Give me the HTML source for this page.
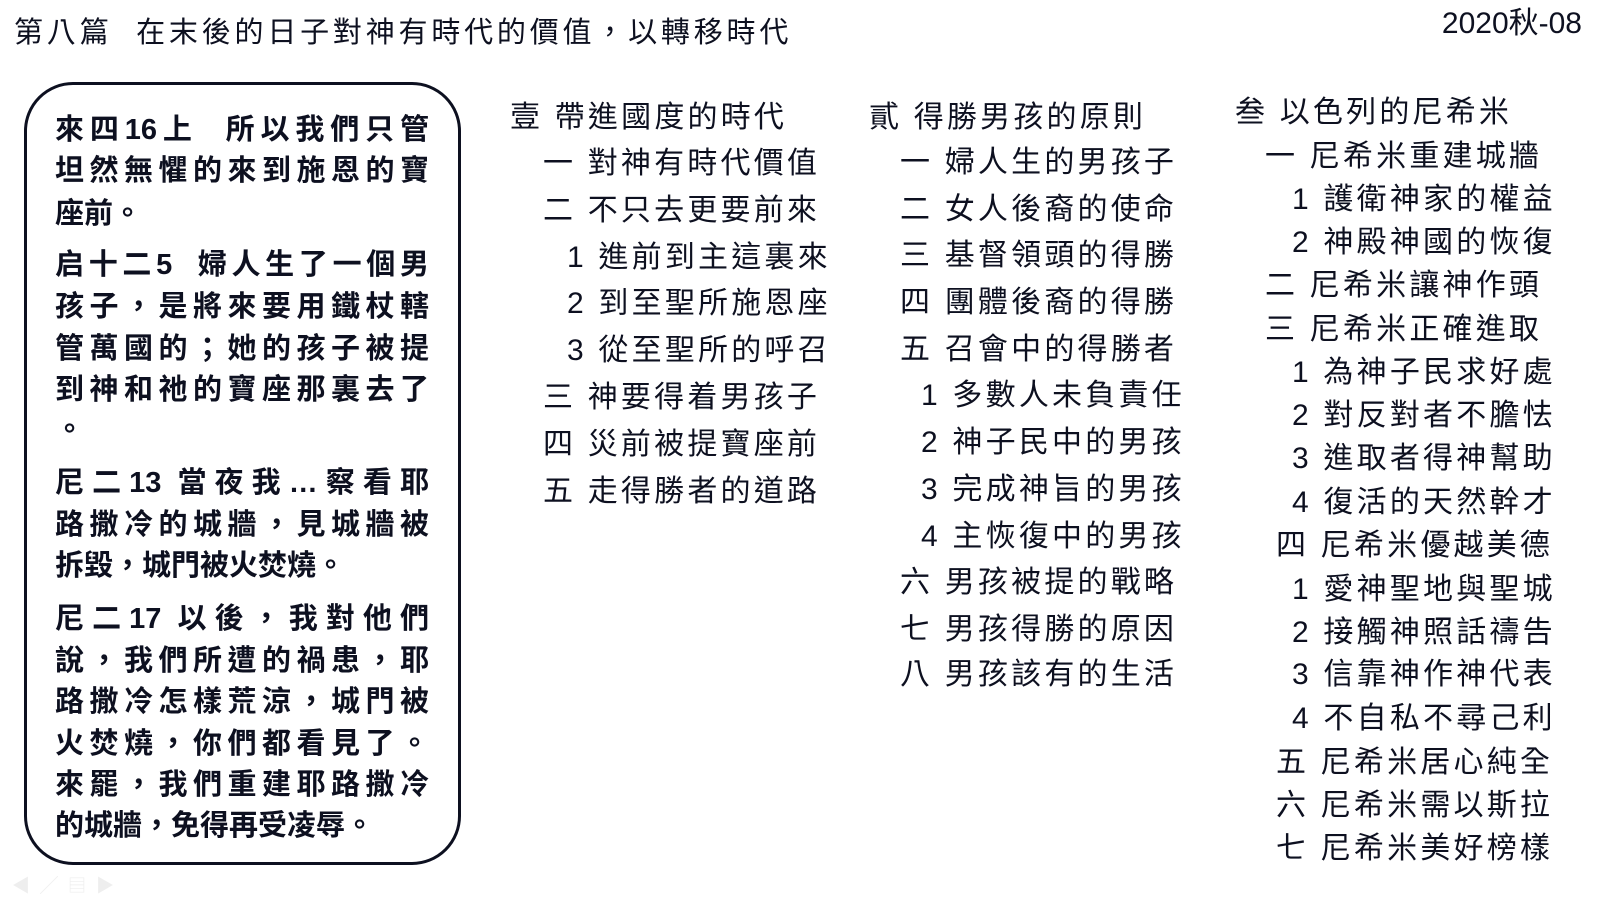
<!DOCTYPE html>
<html><head><meta charset="utf-8">
<style>
body{margin:0;width:1600px;height:900px;background:#fff;position:relative;overflow:hidden;
font-family:"Liberation Sans","Noto Sans CJK TC",sans-serif;color:#0d1020;}
.t{position:absolute;white-space:pre;line-height:1;}
.title{font-size:29px;}
.box{position:absolute;left:24px;top:82px;width:431px;height:777px;border:3px solid #0d1020;border-radius:49px;}
.b{position:absolute;left:55px;width:374px;font-size:29px;font-weight:bold;line-height:1;text-align:justify;text-align-last:justify;white-space:nowrap;}
.b.n{text-align-last:left;}
.c{position:absolute;font-size:30px;letter-spacing:3.2px;line-height:1;white-space:pre;}
</style></head><body>
<div class="t title" style="left:14px;top:19px;letter-spacing:3.8px;">第八篇  在末後的日子對神有時代的價值，以轉移時代</div>
<div class="t title" style="right:18px;top:9px;font-size:30px;">2020秋-08</div>
<div class="box"></div>
<div class="b" style="top:116px">來四16上 &nbsp;所以我們只管</div>
<div class="b" style="top:157px">坦然無懼的來到施恩的寶</div>
<div class="b n" style="top:200px">座前。</div>
<div class="b" style="top:251px">启十二5 &nbsp;婦人生了一個男</div>
<div class="b" style="top:293px">孩子，是將來要用鐵杖轄</div>
<div class="b" style="top:335px">管萬國的；她的孩子被提</div>
<div class="b" style="top:376px">到神和祂的寶座那裏去了</div>
<div class="b n" style="top:416px">。</div>
<div class="b" style="top:469px">尼二13 當夜我…察看耶</div>
<div class="b" style="top:511px">路撒冷的城牆，見城牆被</div>
<div class="b n" style="top:552px">拆毀，城門被火焚燒。</div>
<div class="b" style="top:605px">尼二17 以後，我對他們</div>
<div class="b" style="top:647px">說，我們所遭的禍患，耶</div>
<div class="b" style="top:688px">路撒冷怎樣荒涼，城門被</div>
<div class="b" style="top:730px">火焚燒，你們都看見了。</div>
<div class="b" style="top:771px">來罷，我們重建耶路撒冷</div>
<div class="b n" style="top:812px">的城牆，免得再受凌辱。</div>

<div class="c" style="left:510px;top:103px">壹 帶進國度的時代</div>
<div class="c" style="left:543px;top:149px">一 對神有時代價值</div>
<div class="c" style="left:543px;top:196px">二 不只去更要前來</div>
<div class="c" style="left:567px;top:243px">1 進前到主這裏來</div>
<div class="c" style="left:567px;top:289px">2 到至聖所施恩座</div>
<div class="c" style="left:567px;top:336px">3 從至聖所的呼召</div>
<div class="c" style="left:543px;top:383px">三 神要得着男孩子</div>
<div class="c" style="left:543px;top:430px">四 災前被提寶座前</div>
<div class="c" style="left:543px;top:477px">五 走得勝者的道路</div>

<div class="c" style="left:869px;top:103px">貳 得勝男孩的原則</div>
<div class="c" style="left:900px;top:148px">一 婦人生的男孩子</div>
<div class="c" style="left:900px;top:195px">二 女人後裔的使命</div>
<div class="c" style="left:900px;top:241px">三 基督領頭的得勝</div>
<div class="c" style="left:900px;top:288px">四 團體後裔的得勝</div>
<div class="c" style="left:900px;top:335px">五 召會中的得勝者</div>
<div class="c" style="left:921px;top:381px">1 多數人未負責任</div>
<div class="c" style="left:921px;top:428px">2 神子民中的男孩</div>
<div class="c" style="left:921px;top:475px">3 完成神旨的男孩</div>
<div class="c" style="left:921px;top:522px">4 主恢復中的男孩</div>
<div class="c" style="left:900px;top:568px">六 男孩被提的戰略</div>
<div class="c" style="left:900px;top:615px">七 男孩得勝的原因</div>
<div class="c" style="left:900px;top:660px">八 男孩該有的生活</div>

<div class="c" style="left:1235px;top:98px">叁 以色列的尼希米</div>
<div class="c" style="left:1265px;top:142px">一 尼希米重建城牆</div>
<div class="c" style="left:1292px;top:185px">1 護衛神家的權益</div>
<div class="c" style="left:1292px;top:228px">2 神殿神國的恢復</div>
<div class="c" style="left:1265px;top:271px">二 尼希米讓神作頭</div>
<div class="c" style="left:1265px;top:315px">三 尼希米正確進取</div>
<div class="c" style="left:1292px;top:358px">1 為神子民求好處</div>
<div class="c" style="left:1292px;top:401px">2 對反對者不膽怯</div>
<div class="c" style="left:1292px;top:444px">3 進取者得神幫助</div>
<div class="c" style="left:1292px;top:488px">4 復活的天然幹才</div>
<div class="c" style="left:1276px;top:531px">四 尼希米優越美德</div>
<div class="c" style="left:1292px;top:575px">1 愛神聖地與聖城</div>
<div class="c" style="left:1292px;top:618px">2 接觸神照話禱告</div>
<div class="c" style="left:1292px;top:660px">3 信靠神作神代表</div>
<div class="c" style="left:1292px;top:704px">4 不自私不尋己利</div>
<div class="c" style="left:1276px;top:748px">五 尼希米居心純全</div>
<div class="c" style="left:1276px;top:791px">六 尼希米需以斯拉</div>
<div class="c" style="left:1276px;top:834px">七 尼希米美好榜樣</div>

<div style="position:absolute;left:12px;top:872px;color:#eee;font-size:18px;">◀ &nbsp;╱ &nbsp;▤ &nbsp;▶</div>
</body></html>
